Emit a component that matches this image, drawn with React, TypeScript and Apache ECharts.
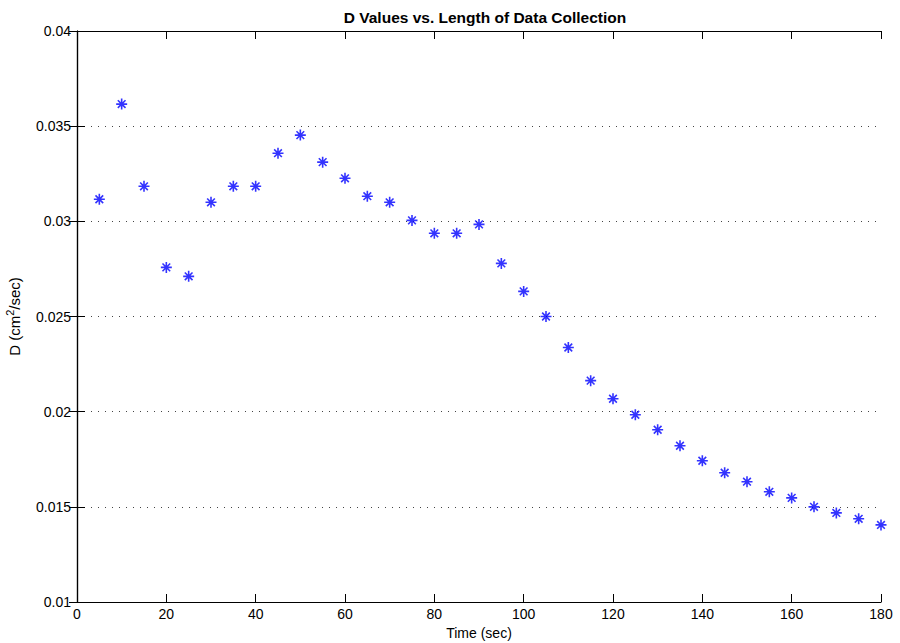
import React, { useEffect, useRef } from "react";
import * as echarts from "echarts";

const times = [5, 10, 15, 20, 25, 30, 35, 40, 45, 50, 55, 60, 65, 70, 75, 80, 85, 90, 95, 100, 105, 110, 115, 120, 125, 130, 135, 140, 145, 150, 155, 160, 165, 170, 175, 180];
const dValues = [0.03116, 0.03616, 0.03184, 0.02758, 0.02711, 0.0310, 0.03184, 0.03184, 0.03358, 0.03453, 0.03311, 0.03226, 0.03132, 0.0310, 0.03005, 0.02937, 0.02937, 0.02984, 0.02779, 0.02632, 0.0250, 0.02337, 0.02163, 0.02068, 0.01984, 0.01905, 0.01821, 0.01742, 0.01679, 0.01632, 0.01579, 0.01547, 0.0150, 0.01468, 0.01437, 0.01405];
const xTicks = [0, 20, 40, 60, 80, 100, 120, 140, 160, 180];
const yTicks = [0.01, 0.015, 0.02, 0.025, 0.03, 0.035, 0.04];

const FONT = "Liberation Sans, Arial, Helvetica, sans-serif";
const STAR = "path://M5,0L5,10M0,5L10,5M1.5,1.5L8.5,8.5M1.5,8.5L8.5,1.5";

export default function App() {
  const ref = useRef<HTMLDivElement>(null);
  useEffect(() => {
    if (!ref.current) return;
    const chart = echarts.init(ref.current, undefined, { renderer: "svg" });
    const tickCommon = { show: true, inside: true, length: 8, lineStyle: { color: "#000", width: 1 } };
    const lineCommon = { show: true, lineStyle: { color: "#000", width: 1.2 } };
    chart.setOption({
      animation: false,
      backgroundColor: "#fff",
      title: {
        text: "D Values vs. Length of Data Collection",
        left: 480,
        textAlign: "center",
        top: 4,
        textStyle: { fontFamily: FONT, fontSize: 15.5, fontWeight: "bold", color: "#000" },
      },
      grid: { left: 77, right: 19, top: 31, bottom: 41, containLabel: false, outerBoundsMode: "none" },
      xAxis: [
        {
          type: "value",
          min: 0,
          max: 180,
          interval: 20,
          position: "bottom",
          name: "Time (sec)",
          nameLocation: "middle",
          nameGap: 23,
          nameTextStyle: { fontFamily: FONT, fontSize: 14, color: "#000" },
          axisLine: lineCommon,
          axisTick: tickCommon,
          axisLabel: {
            fontFamily: FONT,
            fontSize: 14,
            color: "#000",
            margin: 5,
            customValues: xTicks,
          },
          splitLine: { show: false },
        },
        {
          type: "value",
          min: 0,
          max: 180,
          interval: 20,
          position: "top",
          axisLine: lineCommon,
          axisTick: tickCommon,
          axisLabel: { show: false },
          splitLine: { show: false },
        },
      ],
      yAxis: [
        {
          type: "value",
          min: 0.01,
          max: 0.04,
          interval: 0.005,
          position: "left",
          name: "D (cm{sup|2}/sec)",
          nameLocation: "middle",
          nameGap: 53,
          nameRotate: 90,
          nameTextStyle: {
            fontFamily: FONT,
            fontSize: 15,
            color: "#000",
            rich: { sup: { fontFamily: FONT, fontSize: 11, color: "#000", verticalAlign: "top", padding: [0, 0, 9, 0] } },
          },
          axisLine: lineCommon,
          axisTick: tickCommon,
          axisLabel: {
            fontFamily: FONT,
            fontSize: 14,
            color: "#000",
            margin: 6,
            formatter: (v: number) => {
              const t = yTicks.find((y) => Math.abs(y - v) < 1e-9);
              return t === undefined ? "" : String(t);
            },
          },
          splitLine: { show: true, lineStyle: { color: "#444", width: 1, type: [1, 6] } },
        },
        {
          type: "value",
          min: 0.01,
          max: 0.04,
          interval: 0.005,
          position: "right",
          axisLine: lineCommon,
          axisTick: tickCommon,
          axisLabel: { show: false },
          splitLine: { show: false },
        },
      ],
      series: [
        {
          type: "scatter",
          xAxisIndex: 0,
          yAxisIndex: 0,
          data: times.map((t, i) => [t, dValues[i]]),
          symbol: STAR,
          symbolSize: 11,
          itemStyle: { color: "rgba(0,0,0,0)", borderColor: "#0000ff", borderWidth: 1.6 },
          clip: false,
        },
      ],
    });
    return () => chart.dispose();
  }, []);
  return <div ref={ref} style={{ width: 900, height: 643, position: "absolute", left: 0, top: 0 }} />;
}
